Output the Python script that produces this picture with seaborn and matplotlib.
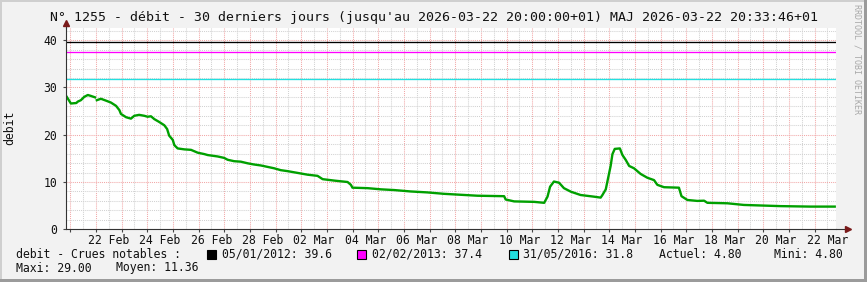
import numpy as np
import pandas as pd
import matplotlib
matplotlib.use("Agg")
import matplotlib.pyplot as plt
import matplotlib.dates as mdates
from matplotlib.ticker import MultipleLocator, FuncFormatter, NullFormatter
from matplotlib.patches import Rectangle
import seaborn as sns

# ---------------- data ----------------
start = "2026-02-20 20:00"
end = "2026-03-22 20:00"

# days since start, debit values (two segments: short gap in data)
days_seg1 = [0.03, 0.19, 0.40, 0.46, 0.58, 0.71, 0.85, 0.97, 1.13]
debit_seg1 = [28.0, 26.6, 26.7, 27.0, 27.3, 28.0, 28.4, 28.2, 27.9]

days_seg2 = [1.20, 1.36, 1.56, 1.75, 1.95, 2.08, 2.14, 2.34, 2.53, 2.66,
             2.85, 3.05, 3.18, 3.31, 3.44, 3.63, 3.83, 3.94, 4.02, 4.16,
             4.22, 4.35, 4.61, 4.87, 5.13, 5.39, 5.52, 5.91, 6.16, 6.30,
             6.55, 6.81, 7.08, 7.33, 7.59, 7.85, 8.11, 8.37, 8.63, 8.89,
             9.15, 9.41, 9.80, 10.00, 10.45, 10.97, 11.10, 11.16, 11.75, 12.27,
             12.78, 13.43, 14.08, 14.73, 15.38, 16.03, 17.07, 17.13, 17.46, 18.24,
             18.63, 18.76, 18.86, 19.01, 19.21, 19.40, 19.67, 20.05, 20.57, 20.83,
             20.90, 21.03, 21.12, 21.22, 21.29, 21.38, 21.58, 21.68, 21.81, 21.94,
             22.13, 22.39, 22.65, 22.91, 23.04, 23.30, 23.88, 23.98, 24.21, 24.60,
             24.86, 24.99, 25.77, 26.41, 27.84, 29.01, 29.95]
debit_seg2 = [27.3, 27.6, 27.2, 26.8, 26.1, 25.2, 24.4, 23.7, 23.4, 24.0,
              24.2, 24.0, 23.8, 23.9, 23.3, 22.7, 22.0, 21.2, 19.8, 18.9,
              17.8, 17.1, 16.9, 16.8, 16.2, 15.9, 15.7, 15.4, 15.1, 14.7,
              14.4, 14.3, 13.95, 13.7, 13.5, 13.2, 12.9, 12.5, 12.3, 12.05,
              11.8, 11.55, 11.3, 10.6, 10.3, 10.0, 9.4, 8.8, 8.7, 8.45,
              8.3, 8.0, 7.8, 7.5, 7.3, 7.1, 7.0, 6.3, 5.9, 5.8,
              5.6, 6.9, 9.0, 10.1, 9.85, 8.7, 7.95, 7.25, 6.9, 6.7,
              7.25, 8.45, 10.8, 13.4, 15.9, 17.0, 17.1, 15.7, 14.65, 13.4,
              12.9, 11.7, 10.9, 10.4, 9.4, 8.9, 8.8, 7.0, 6.2, 6.0,
              6.05, 5.6, 5.5, 5.15, 4.9, 4.8, 4.8]

threshold_dates = ["05/01/2012", "02/02/2013", "31/05/2016"]
threshold_values = [39.6, 37.4, 31.8]
threshold_colors = ["#000000", "#ff00ff", "#22e0e0"]

label_days = ["2026-02-22", "2026-02-24", "2026-02-26", "2026-02-28",
              "2026-03-02", "2026-03-04", "2026-03-06", "2026-03-08",
              "2026-03-10", "2026-03-12", "2026-03-14", "2026-03-16",
              "2026-03-18", "2026-03-20", "2026-03-22"]
tick_labels = ["22 Feb", "24 Feb", "26 Feb", "28 Feb", "02 Mar", "04 Mar",
               "06 Mar", "08 Mar", "10 Mar", "12 Mar", "14 Mar", "16 Mar",
               "18 Mar", "20 Mar", "22 Mar"]

actuel = 4.80
mini = 4.80
maxi = 29.00
moyen = 11.36

title = ("N° 1255 - débit - 30 derniers jours (jusqu'au 2026-03-22 20:00:00+01) "
         "MAJ 2026-03-22 20:33:46+01")

# ---------------- figure ----------------
plt.rcParams['font.family'] = ['DejaVu Sans Mono', 'DejaVu Sans']

W, H = 867, 282
fig = plt.figure(figsize=(W / 100, H / 100), dpi=100, facecolor="#f2f2f2")

def fx(px):
    return px / W

def fy(py):
    return 1 - py / H

ax = fig.add_axes([fx(66), 52.7 / H, 770 / W, 201 / H])
ax.set_facecolor("white")

t0 = pd.Timestamp(start)
df = pd.DataFrame({
    "time": [t0 + pd.Timedelta(days=d) for d in days_seg1 + days_seg2],
    "debit": debit_seg1 + debit_seg2,
    "segment": [1] * len(days_seg1) + [2] * len(days_seg2),
})

for v, c in zip(threshold_values, threshold_colors):
    ax.axhline(v, color=c, lw=0.95, zorder=2)

sns.lineplot(data=df, x="time", y="debit", units="segment", estimator=None,
             color="#00a000", lw=1.7, ax=ax, legend=False, sort=False, zorder=3)

ax.set_xlim(pd.Timestamp(start), pd.Timestamp(end))
ax.set_ylim(0, 42.5)
ax.set_xlabel("")
ax.set_ylabel("")

# ticks & grid
ax.xaxis.set_major_locator(mdates.DayLocator())
ax.xaxis.set_major_formatter(NullFormatter())
ax.xaxis.set_minor_locator(mdates.HourLocator(byhour=[12]))
label_map = dict(zip(label_days, tick_labels))
ax.xaxis.set_minor_formatter(FuncFormatter(
    lambda v, pos: label_map.get(mdates.num2date(v).strftime("%Y-%m-%d"), "")))
ax.yaxis.set_major_locator(MultipleLocator(10))
ax.yaxis.set_minor_locator(MultipleLocator(2))

ax.set_axisbelow(True)
ax.grid(which="major", color="#f2a8a8", ls=(0, (1, 1)), lw=0.75)
ax.grid(which="minor", color="#d2d2d2", ls=(0, (1, 1)), lw=0.75)

ax.tick_params(axis="x", which="major", length=2.5, width=0.8, color="#444444")
ax.tick_params(axis="x", which="minor", length=0, pad=3.5, labelsize=8.3,
               labelcolor="#111111")
ax.tick_params(axis="y", which="major", length=2.5, width=0.8, color="#444444",
               pad=4, labelsize=8.3, labelcolor="#111111")
ax.tick_params(axis="y", which="minor", length=0)

for s in ["top", "right"]:
    ax.spines[s].set_visible(False)
for s in ["left", "bottom"]:
    ax.spines[s].set_color("#333333")
    ax.spines[s].set_linewidth(0.8)
    ax.spines[s].set_zorder(4)

# axis extensions with arrows
ax.plot([1.0, 1.012], [0, 0], transform=ax.transAxes, clip_on=False,
        color="#333333", lw=0.8, zorder=5)
ax.plot([1.015], [0], transform=ax.transAxes, clip_on=False, marker=">",
        ms=5, color="#7a1a1a", zorder=6)
ax.plot([0, 0], [1.0, 1.02], transform=ax.transAxes, clip_on=False,
        color="#333333", lw=0.8, zorder=5)
ax.plot([0], [1.028], transform=ax.transAxes, clip_on=False, marker="^",
        ms=5, color="#7a1a1a", zorder=6)

# texts
fig.text(0.5, fy(17), title, ha="center", va="center", fontsize=9.5,
         color="#111111")
fig.text(fx(10), fy(128), "debit", rotation=90, ha="center", va="center",
         fontsize=8.3, color="#111111")
fig.text(fx(857), fy(4), "RRDTOOL / TOBI OETIKER", rotation=270, ha="center",
         va="top", fontsize=6, color="#a8a8a8")

row1 = fy(254)
row2 = fy(268)
fs = 8.3
fig.text(fx(16), row1, "debit - Crues notables :", ha="left", va="center",
         fontsize=fs, color="#111111")
box_x = [207, 357, 509]
txt_x = [222, 372, 523]
for bx, tx, d, v, c in zip(box_x, txt_x, threshold_dates, threshold_values,
                           threshold_colors):
    fig.add_artist(Rectangle((fx(bx), fy(258.5)), 9 / W, 9 / H,
                             transform=fig.transFigure, facecolor=c,
                             edgecolor="black", lw=0.8))
    fig.text(fx(tx), row1, f"{d}: {v:.1f}", ha="left", va="center",
             fontsize=fs, color="#111111")
fig.text(fx(659), row1, f"Actuel: {actuel:.2f}", ha="left", va="center",
         fontsize=fs, color="#111111")
fig.text(fx(774), row1, f"Mini: {mini:.2f}", ha="left", va="center",
         fontsize=fs, color="#111111")
fig.text(fx(16), row2, f"Maxi: {maxi:.2f}", ha="left", va="center",
         fontsize=fs, color="#111111")
fig.text(fx(116), row2, f"Moyen: {moyen:.2f}", ha="left", va="center",
         fontsize=fs, color="#111111")

# outer frame
fig.add_artist(Rectangle((0, fy(2)), 1, 2 / H, transform=fig.transFigure,
                         facecolor="#cfcfcf", edgecolor="none"))
fig.add_artist(Rectangle((0, 0), 2 / W, 1, transform=fig.transFigure,
                         facecolor="#cfcfcf", edgecolor="none"))
fig.add_artist(Rectangle((1 - 3 / W, 0), 3 / W, 1, transform=fig.transFigure,
                         facecolor="#9b9b9b", edgecolor="none"))
fig.add_artist(Rectangle((0, 0), 1, 3 / H, transform=fig.transFigure,
                         facecolor="#9b9b9b", edgecolor="none"))

fig.savefig("out.png", dpi=100, facecolor=fig.get_facecolor())
